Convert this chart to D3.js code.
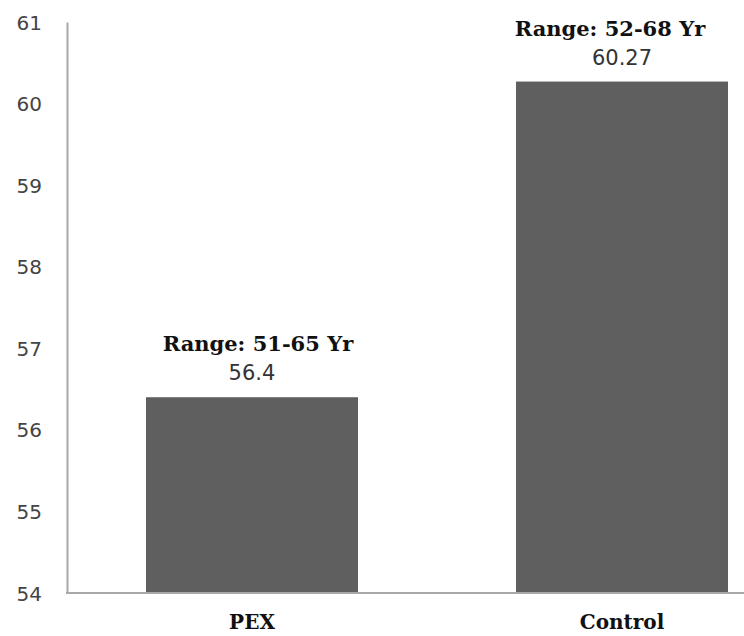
<!DOCTYPE html>
<html><head><meta charset="utf-8">
<script src="https://cdn.jsdelivr.net/npm/d3@7"></script>
<style>html,body{margin:0;padding:0;background:#fff;}svg{display:block;}</style>
</head><body>
<svg id="chart" width="744" height="636"></svg>
<script>
const categories = ["PEX", "Control"];
const values = [56.4, 60.27];
const valueLabels = ["56.4", "60.27"];
const rangeLabels = ["Range: 51-65 Yr", "Range: 52-68 Yr"];
const yTicks = [54, 55, 56, 57, 58, 59, 60, 61];

const svg = d3.select("#chart");
const x = d3.scaleBand().domain(categories).range([67, 807]).paddingInner(0.427).paddingOuter(0.2135);
const y = d3.scaleLinear().domain([54, 61]).range([593, 22]);

// bars
svg.selectAll("rect.bar").data(values).join("rect")
  .attr("class", "bar")
  .attr("x", (d, i) => x(categories[i]))
  .attr("width", x.bandwidth())
  .attr("y", d => y(d))
  .attr("height", d => y(54) - y(d))
  .attr("fill", "#5f5f5f");

// y axis
const yAxis = d3.axisLeft(y).tickValues(yTicks).tickSize(0).tickPadding(25).tickFormat(d3.format("d"));
const gy = svg.append("g").attr("transform", "translate(67,0)").call(yAxis);
gy.select(".domain").attr("stroke", "#a8a8a8").attr("stroke-width", 2);
gy.selectAll("text").attr("font-family", "DejaVu Sans").attr("font-size", 20).attr("fill", "#444").attr("dy", "0.35em");

// x axis
const xAxis = d3.axisBottom(x).tickSize(0).tickPadding(0);
const gx = svg.append("g").attr("transform", "translate(0,593)").call(xAxis);
gx.select(".domain").remove();
gx.append("line").attr("x1", 66).attr("x2", 744).attr("y1", 0).attr("y2", 0).attr("stroke", "#a8a8a8").attr("stroke-width", 2);
gx.selectAll(".tick text").attr("font-family", "DejaVu Serif").attr("font-weight", "bold")
  .attr("font-size", 20).attr("fill", "#111").attr("dy", null).attr("y", 36);

// annotations
svg.selectAll("text.val").data(values).join("text")
  .attr("class", "val")
  .attr("x", (d, i) => x(categories[i]) + x.bandwidth() / 2)
  .attr("y", d => y(d) - 17)
  .attr("text-anchor", "middle")
  .attr("font-family", "DejaVu Sans").attr("font-size", 21).attr("fill", "#333")
  .text((d, i) => valueLabels[i]);

svg.selectAll("text.rng").data(values).join("text")
  .attr("class", "rng")
  .attr("x", (d, i) => x(categories[i]) + x.bandwidth() / 2 + (i === 0 ? 6 : -12))
  .attr("y", d => y(d) - 46)
  .attr("text-anchor", "middle")
  .attr("font-family", "DejaVu Serif").attr("font-weight", "bold").attr("font-size", 21).attr("fill", "#111")
  .text((d, i) => rangeLabels[i]);
</script>
</body></html>
